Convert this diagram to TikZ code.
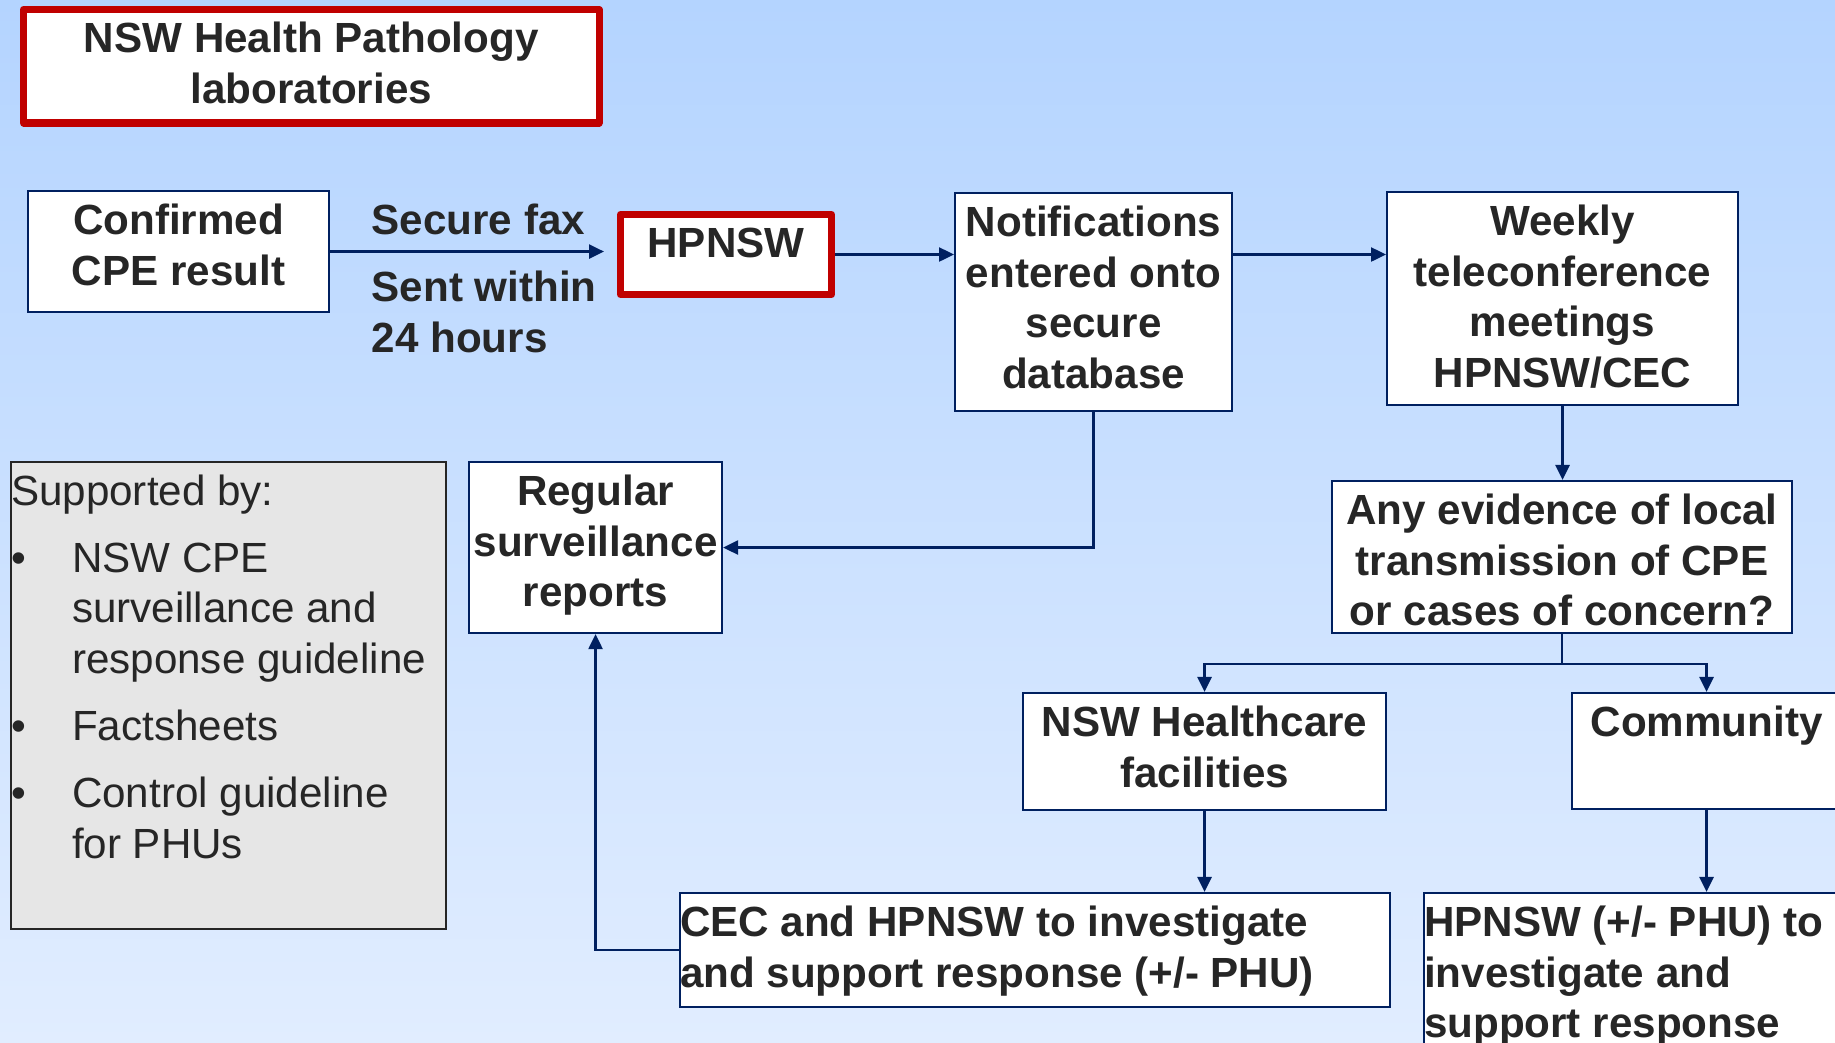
\documentclass[tikz,border=0pt]{standalone}
\usepackage{fontspec}
\setmainfont{Liberation Sans}
\usetikzlibrary{arrows.meta}

\definecolor{navy}{HTML}{002060}
\definecolor{labred}{HTML}{C00000}
\definecolor{ink}{HTML}{262626}
\definecolor{bgtop}{RGB}{180,212,255}
\definecolor{bgbot}{RGB}{225,237,255}
\definecolor{panel}{RGB}{230,230,230}

\newcommand{\boxtxt}[3]{\parbox[c][#2][t]{#1}{\centering\rule{0pt}{0.43cm}#3}}
\newcommand{\boxtxtl}[3]{\parbox[c][#2][t]{#1}{\raggedright\rule{0pt}{0.43cm}#3}}
\newcommand{\bulletitem}{\par\vspace{0.16cm}\noindent\llap{\makebox[0.61cm][l]{\textbullet}}}

\begin{document}
\begin{tikzpicture}[font=\bfseries\fontsize{12}{14.5}\selectfont, text=ink,
    box/.style={draw=navy, line width=0.6pt, fill=white, inner sep=0pt, anchor=north west},
    redbox/.style={box, draw=labred, line width=2pt, line join=round},
    lbl/.style={inner sep=0pt, anchor=north west},
    arr/.style={draw=navy, line width=0.7pt, -{Triangle[length=0.15cm,width=0.14cm]}}]

\useasboundingbox (0,0) rectangle (18.35,-10.43);
\clip (0,0) rectangle (18.35,-10.43);
\shade[top color=bgtop, bottom color=bgbot] (0,0) rectangle (18.35,-10.43);

\node[redbox] (lab) at (0.20,-0.06) {\boxtxt{5.755cm}{1.135cm}{NSW Health Pathology\\laboratories}};
\node[box] (conf) at (0.27,-1.90) {\boxtxt{3.01cm}{1.21cm}{Confirmed\\CPE result}};
\node[lbl] (fax) at (3.71,-1.91) {\boxtxtl{2.2cm}{0.5cm}{Secure fax}};
\node[lbl] (sent) at (3.71,-2.58) {\boxtxtl{2.4cm}{1.0cm}{Sent within\\24 hours}};
\node[redbox] (hpnsw) at (6.17,-2.11) {\boxtxt{2.11cm}{0.80cm}{HPNSW}};
\node[box] (notif) at (9.54,-1.92) {\boxtxt{2.77cm}{2.18cm}{Notifications\\entered onto\\secure\\database}};
\node[box] (weekly) at (13.86,-1.91) {\boxtxt{3.51cm}{2.13cm}{Weekly\\teleconference\\meetings\\HPNSW/CEC}};
\node[box] (anyev) at (13.31,-4.80) {\boxtxt{4.60cm}{1.52cm}{Any evidence of local\\transmission of CPE\\or cases of concern?}};
\node[box] (regular) at (4.68,-4.61) {\boxtxt{2.53cm}{1.71cm}{Regular\\surveillance\\reports}};
\node[box] (nswhc) at (10.22,-6.92) {\boxtxt{3.63cm}{1.17cm}{NSW Healthcare\\facilities}};
\node[box] (comm) at (15.71,-6.92) {\boxtxt{2.69cm}{1.16cm}{Community}};
\node[box] (cec) at (6.79,-8.92) {\boxtxtl{7.10cm}{1.14cm}{CEC and HPNSW to investigate\\and support response (+/- PHU)}};
\node[box] (hpphu) at (14.23,-8.92) {\boxtxtl{4.4cm}{2.0cm}{HPNSW (+/- PHU) to\\investigate and\\support response}};

% supporting documents
\node[box, fill=panel, draw=ink, font=\fontsize{12}{14.5}\selectfont] (support) at (0.10,-4.61) {\boxtxtl{4.35cm}{4.67cm}{Supported by:\par
  \leftskip=0.61cm
  \bulletitem NSW CPE\\surveillance and\\response guideline
  \bulletitem Factsheets
  \bulletitem Control guideline\\for PHUs\par}};

\draw[arr, shorten >=0.13cm] (conf.east) -- (conf.east -| hpnsw.west);
\draw[arr] (hpnsw.east) -- (hpnsw.east -| notif.west);
\draw[arr] (notif.east |- hpnsw.east) -- (weekly.west |- hpnsw.east);
\draw[arr] (weekly.south) -- (weekly.south |- anyev.north);
\draw[arr] (anyev.south) -- ++(0,-0.3) -| (nswhc.north);
\draw[arr] (anyev.south) -- ++(0,-0.3) -| (comm.north);
\draw[arr] (nswhc.south) -- (nswhc.south |- cec.north);
\draw[arr] (comm.south) -- (comm.south |- hpphu.north);
\draw[arr] (notif.south) |- (regular.east);
\draw[arr] (cec.west) -| (regular.south);
\end{tikzpicture}
\end{document}
